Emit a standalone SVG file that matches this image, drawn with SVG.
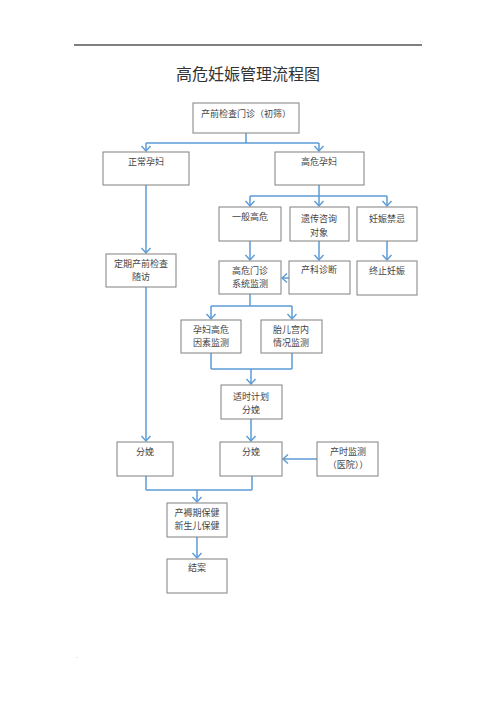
<svg xmlns="http://www.w3.org/2000/svg" width="496" height="702" viewBox="0 0 496 702">
<style>
.b{fill:#fff;stroke:#808080;stroke-width:1}
.t{font-family:"Noto Sans CJK SC","Noto Sans",sans-serif;font-size:9px;fill:#444;text-anchor:middle}
.c line{stroke:#5b9bd5;stroke-width:1.5;fill:none}
.a{marker-end:url(#ar)}
</style>
<defs>
<marker id="ar" markerUnits="userSpaceOnUse" markerWidth="12" markerHeight="12" refX="6" refY="6" orient="auto" viewBox="0 0 12 12">
<path d="M1,1.5 L6,6 L1,10.5" fill="none" stroke="#5b9bd5" stroke-width="1.4"/>
</marker>
</defs>
<rect width="496" height="702" fill="#fff"/>
<line x1="74" y1="45" x2="422" y2="45" stroke="#000" stroke-width="1.2"/>
<text x="420" y="42" font-family="Liberation Sans,sans-serif" font-size="5" fill="#666">.</text>
<text x="76" y="658" font-family="Liberation Sans,sans-serif" font-size="5" fill="#666">.</text>
<text x="248" y="80" font-family="Noto Sans CJK SC,sans-serif" font-size="16" fill="#333" text-anchor="middle">高危妊娠管理流程图</text>

<g class="c">
<line x1="246" y1="133" x2="246" y2="143"/>
<line x1="146" y1="143" x2="319" y2="143"/>
<line class="a" x1="146" y1="143" x2="146" y2="151"/>
<line class="a" x1="319" y1="143" x2="319" y2="151"/>
<line x1="319" y1="185" x2="319" y2="196"/>
<line x1="250" y1="196" x2="387" y2="196"/>
<line class="a" x1="250" y1="196" x2="250" y2="206"/>
<line class="a" x1="319" y1="196" x2="319" y2="206"/>
<line class="a" x1="387" y1="196" x2="387" y2="206"/>
<line class="a" x1="250" y1="241" x2="250" y2="260"/>
<line class="a" x1="319" y1="241" x2="319" y2="260"/>
<line class="a" x1="387" y1="241" x2="387" y2="260"/>
<line class="a" x1="289" y1="278" x2="282" y2="278"/>
<line class="a" x1="146" y1="185" x2="146" y2="253"/>
<line x1="250" y1="294" x2="250" y2="306"/>
<line x1="211" y1="306" x2="292" y2="306"/>
<line class="a" x1="211" y1="306" x2="211" y2="319"/>
<line class="a" x1="292" y1="306" x2="292" y2="319"/>
<line x1="211" y1="353" x2="211" y2="369"/>
<line x1="292" y1="353" x2="292" y2="369"/>
<line x1="211" y1="369" x2="292" y2="369"/>
<line class="a" x1="251" y1="369" x2="251" y2="384"/>
<line class="a" x1="251" y1="419" x2="251" y2="441"/>
<line class="a" x1="146" y1="287" x2="146" y2="441"/>
<line class="a" x1="317" y1="459" x2="283" y2="459"/>
<line x1="146" y1="476" x2="146" y2="490"/>
<line x1="252" y1="476" x2="252" y2="490"/>
<line x1="146" y1="490" x2="252" y2="490"/>
<line class="a" x1="197" y1="490" x2="197" y2="502"/>
<line class="a" x1="197" y1="537" x2="197" y2="558"/>
</g>

<g id="n1"><rect class="b" x="193" y="103" width="106" height="30"/><text class="t" x="246" y="117">产前检查门诊（初筛）</text></g>
<g id="n2"><rect class="b" x="103" y="152" width="86" height="33"/><text class="t" x="146" y="165">正常孕妇</text></g>
<g id="n3"><rect class="b" x="275" y="152" width="89" height="33"/><text class="t" x="319" y="165">高危孕妇</text></g>
<g id="n4"><rect class="b" x="219" y="207" width="62" height="34"/><text class="t" x="250" y="220">一般高危</text></g>
<g id="n5"><rect class="b" x="290" y="207" width="59" height="34"/><text class="t" x="319" y="222">遗传咨询</text><text class="t" x="319" y="236">对象</text></g>
<g id="n6"><rect class="b" x="357" y="207" width="60" height="34"/><text class="t" x="387" y="222">妊娠禁忌</text></g>
<g id="n7"><rect class="b" x="106" y="254" width="70" height="33"/><text class="t" x="141" y="267">定期产前检查</text><text class="t" x="141" y="280">随访</text></g>
<g id="n8"><rect class="b" x="219" y="261" width="62" height="33"/><text class="t" x="250" y="274">高危门诊</text><text class="t" x="250" y="287">系统监测</text></g>
<g id="n9"><rect class="b" x="289" y="261" width="61" height="33"/><text class="t" x="319" y="273">产科诊断</text></g>
<g id="n10"><rect class="b" x="357" y="261" width="60" height="34"/><text class="t" x="387" y="274">终止妊娠</text></g>
<g id="n11"><rect class="b" x="181" y="320" width="60" height="33"/><text class="t" x="211" y="333">孕妇高危</text><text class="t" x="211" y="346">因素监测</text></g>
<g id="n12"><rect class="b" x="261" y="320" width="61" height="33"/><text class="t" x="291" y="333">胎儿宫内</text><text class="t" x="291" y="346">情况监测</text></g>
<g id="n13"><rect class="b" x="221" y="385" width="61" height="34"/><text class="t" x="251" y="400">适时计划</text><text class="t" x="251" y="413">分娩</text></g>
<g id="n14"><rect class="b" x="117" y="442" width="56" height="34"/><text class="t" x="145" y="455">分娩</text></g>
<g id="n15"><rect class="b" x="220" y="442" width="62" height="34"/><text class="t" x="251" y="455">分娩</text></g>
<g id="n16"><rect class="b" x="317" y="442" width="61" height="34"/><text class="t" x="348" y="455">产时监测</text><text class="t" x="348" y="468">（医院））</text></g>
<g id="n17"><rect class="b" x="167" y="503" width="60" height="34"/><text class="t" x="197" y="516">产褥期保健</text><text class="t" x="197" y="529">新生儿保健</text></g>
<g id="n18"><rect class="b" x="167" y="559" width="60" height="34"/><text class="t" x="197" y="571">结案</text></g>
</svg>
